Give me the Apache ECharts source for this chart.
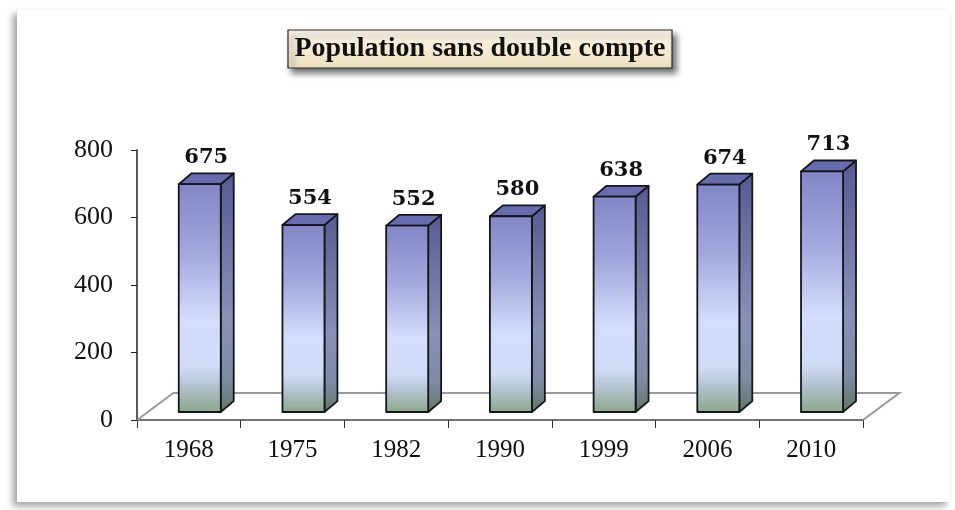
<!DOCTYPE html>
<html>
<head>
<meta charset="utf-8">
<script src="https://cdn.jsdelivr.net/npm/echarts@6/dist/echarts.min.js"></script>
<style>
html,body{margin:0;padding:0;background:#ffffff;}
#chart{width:955px;height:510px;}
</style>
</head>
<body>
<div id="chart"></div>
<script>
const titleText = 'Population sans double compte';
const categories = ['1968', '1975', '1982', '1990', '1999', '2006', '2010'];
const populationValues = [675, 554, 552, 580, 638, 674, 713];
const yTicks = [0, 200, 400, 600, 800];

const chart = echarts.init(document.getElementById('chart'), null, {renderer: 'canvas'});

const frontGrad = {
  type: 'linear', x: 0, y: 0, x2: 0, y2: 1,
  colorStops: [
    {offset: 0, color: '#8286c6'},
    {offset: 0.3, color: '#a2a7dc'},
    {offset: 0.6, color: '#d4ddfc'},
    {offset: 0.8, color: '#d0dcf6'},
    {offset: 0.88, color: '#b4c4d2'},
    {offset: 1, color: '#8ba689'}
  ]
};
const sideGrad = {
  type: 'linear', x: 0, y: 0, x2: 0, y2: 1,
  colorStops: [
    {offset: 0, color: '#565a92'},
    {offset: 0.6, color: '#8890b6'},
    {offset: 0.85, color: '#7e8ca4'},
    {offset: 1, color: '#627466'}
  ]
};

function renderBar(params, api) {
  const i = api.value(0), v = api.value(1);
  const c0 = api.coord([i, 0]);
  const c1 = api.coord([i, v]);
  const band = api.size([1, 0])[0];
  const w = band * 0.405;
  const sx = band * 0.105, sy = -band * 0.077;
  const dx = band * 0.125, dy = -band * 0.105;
  const xL = c0[0] - w / 2 + sx, xR = xL + w;
  const baseY = c0[1] + sy, topY = c1[1] + sy;
  const stroke = {stroke: '#15151f', lineWidth: 1.8, lineJoin: 'round'};
  return {
    type: 'group',
    children: [
      {type: 'polygon', shape: {points: [[xR, topY], [xR + dx, topY + dy], [xR + dx, baseY + dy], [xR, baseY]]},
        style: Object.assign({fill: sideGrad}, stroke)},
      {type: 'polygon', shape: {points: [[xL, topY], [xL + dx, topY + dy], [xR + dx, topY + dy], [xR, topY]]},
        style: Object.assign({fill: '#686cac'}, stroke)},
      {type: 'rect', shape: {x: xL, y: topY, width: w, height: baseY - topY},
        style: Object.assign({fill: frontGrad}, stroke)},
      {type: 'text', x: xL + w / 2 + dx / 2, y: topY + dy - 5,
        style: {text: String(v), fill: '#111', font: 'bold 21px "DejaVu Serif"', align: 'center', verticalAlign: 'bottom'}}
    ]
  };
}

function renderFloor(params, api) {
  const cs = params.coordSys;
  const band = cs.width / categories.length;
  const fdx = band * 0.35, fdy = -band * 0.26;
  const y0 = cs.y + cs.height;
  return {
    type: 'polyline',
    shape: {points: [[cs.x, y0], [cs.x + fdx, y0 + fdy], [cs.x + cs.width + fdx, y0 + fdy], [cs.x + cs.width, y0]]},
    style: {stroke: '#9a9a9a', lineWidth: 2, fill: null}
  };
}

const option = {
  backgroundColor: 'transparent',
  animation: false,
  graphic: [
    {type: 'rect', z: -10, shape: {x: 17, y: 10, width: 933, height: 492},
      style: {fill: '#ffffff', shadowBlur: 7, shadowColor: 'rgba(0,0,0,0.38)', shadowOffsetX: -4, shadowOffsetY: 4}},
    {type: 'rect', z: 10, shape: {x: 288, y: 30, width: 384, height: 38},
      style: {fill: {type: 'linear', x: 0, y: 0, x2: 0, y2: 1, colorStops: [{offset: 0, color: '#fcf7ec'}, {offset: 1, color: '#eedfc0'}]},
        stroke: '#2a2a2a', lineWidth: 1.2, shadowBlur: 6, shadowColor: 'rgba(0,0,0,0.55)', shadowOffsetX: 4, shadowOffsetY: 5}},
    {type: 'text', z: 11, x: 480, y: 49,
      style: {text: titleText, font: 'bold 28px "Liberation Serif"', fill: '#111', align: 'center', verticalAlign: 'middle'}}
  ],
  grid: {left: 137, right: 92, top: 150, bottom: 90, containLabel: false},
  xAxis: {
    type: 'category',
    data: categories,
    axisLine: {show: true, lineStyle: {color: '#444', width: 1.5}},
    axisTick: {show: true, length: 8, lineStyle: {color: '#333'}},
    axisLabel: {fontFamily: 'Liberation Serif', fontSize: 25, color: '#111', margin: 18}
  },
  yAxis: {
    type: 'value',
    min: yTicks[0], max: yTicks[yTicks.length - 1], interval: 200,
    axisLine: {show: true, lineStyle: {color: '#222', width: 1.5}},
    axisTick: {show: true, length: 6, lineStyle: {color: '#222'}},
    splitLine: {show: false},
    axisLabel: {fontFamily: 'Liberation Serif', fontSize: 26, color: '#111', margin: 24}
  },
  series: [
    {type: 'custom', z: 1, clip: false, renderItem: renderFloor, data: [[0, 0]], encode: {x: 0, y: 1}, silent: true},
    {type: 'custom', z: 3, clip: false, renderItem: renderBar,
      data: populationValues.map((v, i) => [i, v]), encode: {x: 0, y: 1}}
  ]
};
chart.setOption(option);
</script>
</body>
</html>
